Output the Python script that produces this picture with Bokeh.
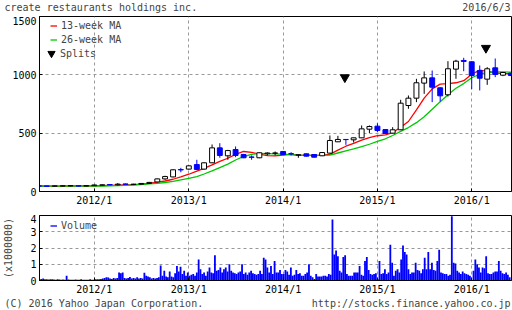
import pandas as pd
from bokeh.plotting import figure
from bokeh.layouts import column
from bokeh.models import (Range1d, FixedTicker, Legend, LegendItem, Label, ColumnDataSource)
from bokeh.embed import file_html
from bokeh.resources import INLINE

# ---------------- data ----------------
title_text = "create restaurants holdings inc."
date_text = "2016/6/3"
copyright_text = "(C) 2016 Yahoo Japan Corporation."
url_text = "http://stocks.finance.yahoo.co.jp"
volume_axis_label = "(x1000000)"

range_start = "2011-06-03"
range_end = "2016-06-03"

# monthly candles, first month 2011-06
first_month = "2011-06-01"
opens = [48, 47, 45, 47, 48, 49, 47, 50, 54, 60, 57, 65, 60, 62, 69, 82, 108, 125, 188, 192,
         231, 192, 246, 374, 306, 360, 317, 296, 289, 323, 328, 343, 324, 312, 323, 317, 306, 329,
         426, 446, 443, 460, 534, 560, 531, 500, 529, 737, 800, 929, 974, 889, 829, 1049, 1123,
         1112, 1037, 963, 1060, 997, 1014]
highs = [50, 49, 50, 52, 51, 53, 52, 58, 60, 64, 72, 68, 66, 72, 82, 110, 135, 189, 203, 223,
         272, 250, 403, 414, 357, 386, 323, 309, 335, 335, 343, 345, 337, 316, 325, 318, 336, 480,
         477, 447, 462, 566, 566, 585, 533, 551, 786, 823, 966, 1029, 1037, 894, 1117, 1129, 1146,
         1117, 1080, 1066, 1140, 1022, 1016]
lows = [45, 44, 44, 44, 45, 44, 45, 48, 52, 54, 52, 58, 56, 60, 66, 78, 100, 122, 165, 188,
        186, 188, 243, 289, 272, 294, 286, 272, 286, 309, 309, 315, 309, 289, 300, 292, 304, 327,
        424, 400, 420, 458, 500, 508, 495, 498, 527, 709, 766, 837, 766, 771, 814, 966, 1031,
        877, 866, 914, 980, 989, 992]
closes = [46, 45, 48, 49, 50, 47, 50, 56, 57, 57, 63, 61, 63, 69, 78, 108, 128, 186, 185, 220,
          189, 246, 374, 309, 351, 309, 289, 293, 332, 330, 330, 317, 322, 315, 303, 294, 334, 437,
          446, 445, 460, 537, 557, 523, 497, 529, 757, 800, 932, 974, 894, 820, 1052, 1117, 1115,
          994, 971, 1052, 1003, 1020, 994]
ma13 = [47, 47, 46, 46, 47, 47, 47, 48, 50, 53, 55, 57, 58, 64, 70, 80, 90, 105, 125, 148,
        175, 198, 228, 258, 285, 318, 343, 335, 320, 308, 306, 312, 318, 310, 310, 310, 312, 318,
        355, 388, 412, 440, 462, 478, 485, 505, 551, 600, 700, 800, 880, 920, 925, 932, 950,
        1005, 1040, 1030, 1018, 1010, 1009]
ma26 = [46, 46, 46, 46, 46, 46, 46, 47, 47, 48, 50, 52, 56, 60, 65, 70, 77, 86, 100, 112,
        128, 150, 176, 205, 235, 270, 300, 318, 326, 324, 322, 320, 316, 312, 310, 310, 310, 312,
        330, 348, 365, 385, 405, 430, 452, 480, 515, 548, 590, 640, 705, 770, 830, 885, 925,
        975, 1005, 1020, 1025, 1025, 1022]

# weekly volume (millions), first week 2011-06-03
vol_start = "2011-06-03"
volume_m = [
    0.08, 0.1, 0.12, 0.07, 0.08, 0.06, 0.07, 0.08, 0.06, 0.05, 0.07, 0.06, 0.05, 0.06, 0.05, 0.3,
    0.06, 0.05, 0.04, 0.05, 0.06, 0.04, 0.05, 0.07, 0.04, 0.05, 0.04, 0.05, 0.08, 0.05, 0.04,
    0.07, 0.08, 0.07, 0.1, 0.12, 0.15, 0.2, 0.18, 0.12, 0.1,
    0.15, 0.12, 0.15, 0.5, 0.45, 0.5, 0.15, 0.12, 0.15, 0.22,
    0.12, 0.15, 0.12, 0.2, 0.12, 0.15, 0.12, 0.47, 0.3, 0.25,
    0.2, 0.12, 0.15, 0.12, 0.15, 0.2, 0.92, 0.3, 0.6, 0.25,
    0.2, 0.55, 0.25, 0.2, 0.45, 0.9, 0.55, 0.85, 0.4, 0.6,
    0.3, 0.5,
    0.3, 0.35, 0.4, 0.3, 0.5, 1.3, 0.7, 0.4, 0.5, 0.3,
    0.55, 0.8, 0.5, 0.45, 1.55, 0.6, 0.65, 0.8, 0.5, 0.7,
    0.8, 0.55, 1.0, 0.6, 0.5, 0.45, 0.4, 0.5, 0.55, 1.0,
    0.4, 0.5, 0.35, 0.5, 0.6, 0.45, 0.4, 0.35, 0.4, 0.6,
    0.4, 1.4, 1.3, 0.8, 0.5, 0.9, 0.4, 1.2, 0.5, 0.5,
    0.65, 0.4,
    0.4, 0.65, 0.55, 0.35, 0.8, 0.3, 0.35, 0.65, 0.4, 0.45,
    0.3, 0.3, 0.4, 0.5, 1.0, 0.3, 0.2, 0.1, 0.4, 0.25,
    0.25, 0.25, 0.3, 0.3, 0.25, 0.4, 0.35, 3.75, 1.6, 1.85,
    1.5, 0.6, 0.5, 1.45, 1.55, 0.4, 0.3, 0.3, 0.3, 0.5,
    0.5, 0.5, 0.9, 0.35, 0.3, 1.2, 1.45, 0.65, 0.4, 0.35,
    0.4, 0.45,
    0.1, 1.2, 0.4, 0.45, 0.7, 0.4, 0.5, 2.2, 1.1, 0.3,
    0.6, 0.7, 0.5, 1.3, 2.15, 1.75, 1.6, 0.7, 0.4, 0.5,
    0.5, 1.1, 0.65, 0.6, 0.45, 0.7, 1.4, 0.7, 1.75, 0.7,
    1.1, 0.65, 0.6, 1.2, 1.9, 0.5, 0.45, 0.4, 0.4, 0.3,
    0.35, 3.95, 1.1, 1.05, 0.6, 0.5, 0.4, 0.55, 0.45, 0.4,
    0.35, 0.3,
    0.05, 0.6, 1.3, 1.0, 0.8, 0.5, 0.8, 0.75, 1.5, 0.45,
    0.4, 0.4, 0.5, 0.55, 0.55, 1.2, 0.6, 0.45, 0.4, 0.5,
    0.35, 0.2,
]

split_dates = ["2014-08-28", "2016-02-25"]
split_marks = [978, 1230]

year_ticks = [2012, 2013, 2014, 2015, 2016]
year_tick_labels = ["2012/1", "2013/1", "2014/1", "2015/1", "2016/1"]
price_ticks = [0, 500, 1000, 1500]
volume_ticks = [0, 1, 2, 3, 4]

# ---------------- styles ----------------
FONT = "DejaVu Sans Mono"
FS = "10px"
BLUE = "#0000ff"
RED = "#ff0000"
GREEN = "#00c800"
GRID = "#999999"
DAY_MS = 86400000
W = 512

months = pd.date_range(first_month, periods=len(opens), freq="MS")
weeks = pd.date_range(vol_start, periods=len(volume_m), freq="7D")
up = [c >= o for o, c in zip(opens, closes)]
cs = ColumnDataSource(dict(
    date=months, open=opens, high=highs, low=lows, close=closes,
    top=[max(o, c) for o, c in zip(opens, closes)],
    bottom=[min(o, c) for o, c in zip(opens, closes)],
    fill=["white" if u else BLUE for u in up],
    line=["black" if u else BLUE for u in up],
    ma13=ma13, ma26=ma26,
))
vs = ColumnDataSource(dict(date=weeks, vol=volume_m))
tick_ms = [int(pd.Timestamp(f"{y}-01-01").value // 10**6) for y in year_ticks]
overrides = {t: lab for t, lab in zip(tick_ms, year_tick_labels)}

x_range = Range1d(pd.Timestamp(range_start), pd.Timestamp(range_end))


def style(p, yticks):
    p.outline_line_color = "black"
    p.outline_line_alpha = 1
    p.xaxis.ticker = FixedTicker(ticks=tick_ms)
    p.xaxis.major_label_overrides = overrides
    p.yaxis.ticker = FixedTicker(ticks=yticks)
    for ax in (p.xaxis[0], p.yaxis[0]):
        ax.axis_line_color = "black"
        ax.major_tick_in = 3
        ax.major_tick_out = 0
        ax.major_tick_line_color = "black"
        ax.minor_tick_line_color = None
        ax.major_label_text_font = FONT
        ax.major_label_text_font_size = FS
        ax.major_label_text_color = "black"
        ax.major_label_standoff = 3
    for g in (p.xgrid[0], p.ygrid[0]):
        g.grid_line_color = GRID
        g.grid_line_dash = "3 3"
        g.grid_line_width = 1
    p.xgrid.ticker = FixedTicker(ticks=tick_ms)
    p.ygrid.ticker = FixedTicker(ticks=yticks)


def legend(items, location, glyph, standoff):
    return Legend(items=items, location=location, orientation="vertical",
                  label_text_font=FONT, label_text_font_size=FS,
                  glyph_width=glyph, glyph_height=glyph if glyph > 13 else 13,
                  label_height=glyph if glyph > 13 else 13, label_standoff=standoff,
                  spacing=1, padding=0, margin=0,
                  border_line_alpha=0, background_fill_alpha=0)


def text_strip(height, left_text, right_text, y):
    s = figure(width=W, height=height, x_range=Range1d(0, 1), y_range=Range1d(0, 1),
               x_axis_location=None, y_axis_location=None, output_backend="svg",
               toolbar_location=None, min_border=0, outline_line_color=None)
    s.grid.visible = False
    s.add_layout(Label(x=4, y=y, x_units="screen", y_units="screen", text=left_text,
                       text_font=FONT, text_font_size=FS, text_baseline="middle",
                       text_align="left"))
    s.add_layout(Label(x=W - 2, y=y, x_units="screen", y_units="screen", text=right_text,
                       text_font=FONT, text_font_size=FS, text_baseline="middle",
                       text_align="right"))
    return s


header = text_strip(16, title_text, date_text, 9)

# ---------------- price panel ----------------
p = figure(width=W, height=198, x_axis_type="datetime", x_range=x_range,
           y_range=Range1d(0, 1500), output_backend="svg", toolbar_location=None,
           min_border_left=39, min_border_right=1, min_border_top=0, min_border_bottom=23)
style(p, price_ticks)

r13 = p.line("date", "ma13", source=cs, color=RED, line_width=1.3)
r26 = p.line("date", "ma26", source=cs, color=GREEN, line_width=1.3)
p.segment(x0="date", y0="low", x1="date", y1="high", source=cs, line_color="line", line_width=1)
p.vbar(x="date", top="top", bottom="bottom", width=19 * DAY_MS, source=cs,
       fill_color="fill", line_color="line", line_width=1)
rs = p.scatter(x=pd.to_datetime(split_dates), y=split_marks, marker="inverted_triangle",
               size=9, color="black")

p.add_layout(legend([LegendItem(label="13-week MA", renderers=[r13]),
                     LegendItem(label="26-week MA", renderers=[r26])], (11, 145), 7, 4))
p.add_layout(legend([LegendItem(label="Splits", renderers=[rs])], (3, 129), 18, 0))

# ---------------- volume panel ----------------
v = figure(width=W, height=84, x_axis_type="datetime", x_range=x_range,
           y_range=Range1d(0, 4), output_backend="svg", toolbar_location=None,
           min_border_left=39, min_border_right=1, min_border_top=1, min_border_bottom=18)
style(v, volume_ticks)
v.yaxis.axis_label = volume_axis_label
v.yaxis.axis_label_text_font = FONT
v.yaxis.axis_label_text_font_size = FS
v.yaxis.axis_label_text_font_style = "normal"
v.yaxis.axis_label_standoff = 13
v.extra_y_ranges = {"legend_only": Range1d(10, 20)}

v.vbar(x="date", top="vol", width=7 * DAY_MS, source=vs, fill_color=BLUE, line_color=None)
# line renderer kept out of view; only its legend sample is shown
rv = v.line(x="date", y="vol", source=vs, color=BLUE, line_width=1.3, y_range_name="legend_only")
v.add_layout(legend([LegendItem(label="Volume", renderers=[rv])], (11, 48), 7, 4))

footer = text_strip(12, copyright_text, url_text, 7)

layout = column(header, column(p, v, spacing=0), footer, spacing=0)
open("out.html", "w").write(file_html(layout, INLINE))
